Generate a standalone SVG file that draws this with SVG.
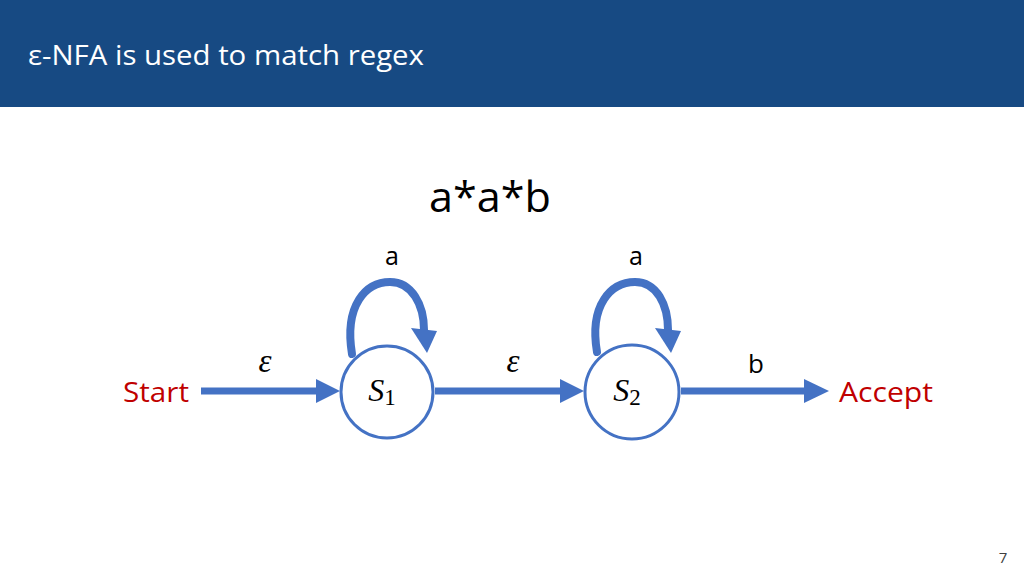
<svg xmlns="http://www.w3.org/2000/svg" width="1024" height="576" viewBox="0 0 1024 576">
<defs>
<style>
.t{font-family:"Open Sans","Liberation Sans",sans-serif;}
.m{font-family:"Liberation Serif","DejaVu Serif",serif;font-style:italic;fill:#000;}
.sub{font-style:normal;}
.edge{fill:none;stroke:#4472C4;stroke-width:7;}
.loop{fill:none;stroke:#4472C4;stroke-width:8;stroke-linecap:round;}
.state{fill:#fff;stroke:#4472C4;stroke-width:3;}
.head{fill:#4472C4;}
</style>
</defs>
<rect width="1024" height="576" fill="#fff"/>
<rect width="1024" height="107" fill="#174A83"/>
<text class="t" x="28" y="65" font-size="27" fill="#fff" textLength="396" lengthAdjust="spacingAndGlyphs">ε-NFA is used to match regex</text>
<text class="t" x="490" y="212" font-size="42" text-anchor="middle" fill="#000" textLength="122" lengthAdjust="spacingAndGlyphs">a*a*b</text>
<text class="t" x="392" y="265" font-size="25" text-anchor="middle" fill="#000">a</text>
<text class="t" x="636" y="265" font-size="25" text-anchor="middle" fill="#000">a</text>
<text class="t" x="123" y="402" font-size="28" fill="#C00000" textLength="66" lengthAdjust="spacingAndGlyphs">Start</text>
<text class="t" x="839" y="402" font-size="28" fill="#C00000" textLength="94" lengthAdjust="spacingAndGlyphs">Accept</text>
<text class="m" x="265" y="372" font-size="33" text-anchor="middle">ε</text>
<text class="m" x="513" y="372" font-size="33" text-anchor="middle">ε</text>
<text class="t" x="756" y="373" font-size="26" text-anchor="middle" fill="#000">b</text>
<g id="connectors">
<line class="edge" x1="201" y1="391" x2="318" y2="391"/>
<polygon class="head" points="316,379 340,391 316,403"/>
<line class="edge" x1="435" y1="391" x2="562" y2="391"/>
<polygon class="head" points="560,379 584,391 560,403"/>
<line class="edge" x1="681" y1="391" x2="806" y2="391"/>
<polygon class="head" points="804,379 829,391 804,403"/>
<path class="loop" d="M352,354 C344,305 366,282 390,282 C412,282 424,305 424,330"/>
<polygon class="head" points="411,328 437,331 427,353"/>
<path class="loop" d="M597,352 C589,305 611,282 635,282 C657,282 668,305 668,330"/>
<polygon class="head" points="655,328 681,331 671,353"/>
</g>
<g id="S1">
<circle class="state" cx="387" cy="392" r="46"/>
<text class="m" x="382" y="401" font-size="32" text-anchor="middle">S<tspan class="sub" font-size="23" dy="4">1</tspan></text>
</g>
<g id="S2">
<circle class="state" cx="632" cy="392" r="47"/>
<text class="m" x="627" y="401" font-size="32" text-anchor="middle">S<tspan class="sub" font-size="23" dy="4">2</tspan></text>
</g>
<text class="t" x="1003" y="563" font-size="15" text-anchor="middle" fill="#404040">7</text>
</svg>
